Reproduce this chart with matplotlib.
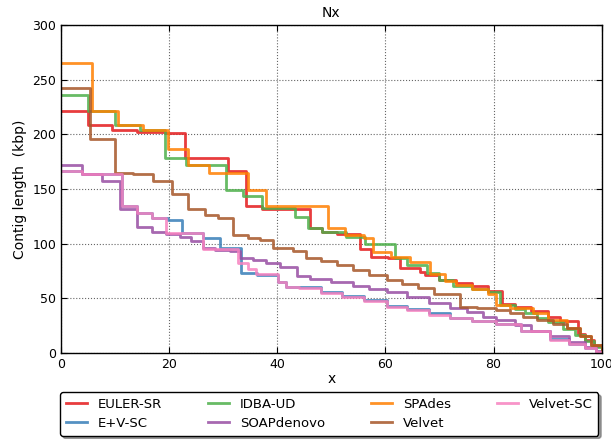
import matplotlib
matplotlib.use("Agg")
import matplotlib.pyplot as plt

names = ["EULER-SR", "E+V-SC", "IDBA-UD", "SOAPdenovo", "SPAdes", "Velvet", "Velvet-SC"]
colors = ["#e41a1c", "#377eb8", "#4daf4a", "#984ea3", "#ff7f00", "#a65628", "#f781bf"]

euler_x = [0, 5.0, 9.5, 14, 19.2, 22.9, 30.8, 34.3, 37.1, 46, 48.2, 51, 55.3, 57.4, 60.5, 62.7, 66.4, 67.3, 70, 73, 76, 79, 81.5, 84, 87, 90, 92.2, 95.6, 97, 98.5, 100]
euler_y = [221, 209, 204, 202, 201, 178, 166, 134, 132, 114, 111, 109, 95, 88, 87, 78, 74, 71, 67, 64, 61, 57, 45, 42, 38, 33, 29, 17, 12, 6, 0]

ev_x = [0, 3.8, 11.2, 14, 16.8, 19.8, 22.3, 26.3, 29.4, 33.3, 36.2, 40.2, 41.7, 44, 48, 52, 56, 60.2, 64, 68, 71.9, 76, 80.5, 85, 90.4, 94, 97, 99, 100]
ev_y = [166, 164, 134, 128, 123, 122, 110, 105, 96, 73, 71, 65, 60.5, 60, 56, 52, 48, 43, 40, 36, 32, 29, 26, 20, 13, 8, 4, 1, 0]

idba_x = [0, 5.0, 10, 14.6, 19.2, 23.2, 30.6, 33.7, 37.1, 43.3, 45.7, 48.2, 52.8, 56.2, 61.7, 64, 67.6, 70, 72.5, 76, 79, 81.1, 84, 85.8, 88, 90, 92.8, 95, 97, 98.5, 100]
idba_y = [236, 221, 209, 204, 178, 172, 149, 144, 133, 124, 114, 111, 106, 100, 87, 80, 73, 67, 61, 58, 56, 44, 40, 36, 32, 28, 22, 16, 11, 5, 0]

soap_x = [0, 3.8, 7.5, 10.9, 14, 16.8, 19.5, 22, 24, 26.3, 28.5, 31.2, 33.1, 35.5, 38, 40.5, 43.6, 46, 50, 54, 57, 60.2, 64, 68, 71.9, 75, 78, 80.5, 84, 87, 90.4, 94, 97, 99, 100]
soap_y = [172, 164, 157, 132, 115, 111, 109, 106, 102, 96, 94, 93, 87, 85, 82, 79, 70, 68, 65, 61, 58, 56, 51, 46, 41, 37, 33, 30, 25, 20, 15, 10, 5, 2, 0]

spades_x = [0, 5.7, 10.5, 15.2, 19.7, 23.5, 27.4, 34.6, 37.9, 49.4, 52.5, 56, 57.7, 61, 64.5, 68.2, 71, 73, 76, 79, 80.5, 83, 87.3, 90, 93.5, 96, 98, 100]
spades_y = [265, 221, 209, 204, 187, 172, 165, 149, 134, 114, 108, 105, 92, 88, 83, 72, 66, 62, 58, 54, 44, 41, 36, 30, 23, 15, 7, 0]

velvet_x = [0, 5.4, 9.9, 13.4, 17.0, 20.5, 23.5, 26.6, 29, 31.8, 34.5, 36.8, 39.2, 42.9, 45.4, 48, 51, 54, 57, 60.2, 63, 66, 69, 73.8, 77, 80.5, 83, 85.5, 88, 91, 93.5, 96, 98, 100]
velvet_y = [242, 196, 165, 163.5, 157, 145, 132, 126, 123, 108, 105, 103, 96, 93, 87, 84, 80, 76, 71, 67, 63, 59, 54, 42, 41, 39, 36, 33, 30, 26, 23, 15, 7, 0]

vsc_x = [0, 3.8, 11.2, 14, 16.8, 19.5, 26.3, 32.8, 34.5, 36, 40.2, 41.7, 44, 48, 52, 56, 60.2, 64, 68, 71.9, 76, 80.5, 85, 90.4, 94, 97, 99, 100]
vsc_y = [166, 164, 134, 128, 123, 110, 95, 82, 77, 72, 65, 60, 59, 55, 51, 47, 42, 39, 35, 32, 29, 26, 20, 12, 8, 4, 1, 0]

series = [(euler_x, euler_y), (ev_x, ev_y), (idba_x, idba_y), (soap_x, soap_y),
          (spades_x, spades_y), (velvet_x, velvet_y), (vsc_x, vsc_y)]

fig = plt.figure(figsize=(6.11, 4.41), dpi=100)
ax = fig.add_axes([0.0998, 0.2, 0.885, 0.743])

for (xs, ys), name, c in zip(series, names, colors):
    ax.step(xs, ys, where="post", color=c, lw=2, alpha=0.85, label=name)

ax.set_xlim(0, 100)
ax.set_ylim(0, 300)
ax.set_xticks([0, 20, 40, 60, 80, 100])
ax.set_yticks([0, 50, 100, 150, 200, 250, 300])
ax.grid(True, linestyle=":", color="0.4", linewidth=0.8)
ax.tick_params(direction="in", labelsize=9, top=True, right=True, length=4)
ax.set_title("Nx", fontsize=10)
ax.set_xlabel("x", fontsize=10, labelpad=1)
ax.set_ylabel("Contig length  (kbp)", fontsize=10)
for sp in ax.spines.values():
    sp.set_linewidth(1.0)

leg = ax.legend(loc="upper center", bbox_to_anchor=(0.496, -0.12), borderaxespad=0,
                ncol=4, fontsize=9.5, frameon=True, fancybox=True, shadow=True,
                handlelength=1.6, handletextpad=0.8, columnspacing=3.5,
                labelspacing=0.42, borderpad=0.45)
leg.get_frame().set_edgecolor("black")

fig.savefig("out.png", dpi=100)
